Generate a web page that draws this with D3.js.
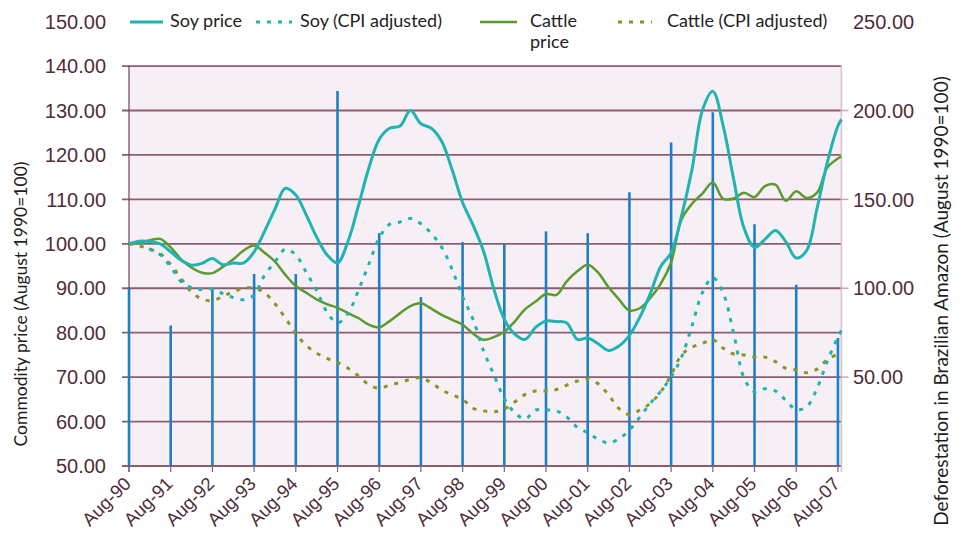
<!DOCTYPE html>
<html lang="en">
<head>
<meta charset="utf-8">
<title>Soy, cattle and deforestation</title>
<script src="https://d3js.org/d3.v7.min.js"></script>
<style>
  body { margin: 0; background: #fff; }
  .tick-label { font-family: "Liberation Sans", Arial, sans-serif; font-size: 20px; fill: #4f2c3a; }
  .x-label { font-family: "Liberation Sans", Arial, sans-serif; font-size: 18.5px; fill: #4f2c3a; }
  .legend { font-family: Lato, "Open Sans", sans-serif; font-size: 18px; fill: #1e1e1e; }
  .axis-title { font-family: Lato, "Open Sans", sans-serif; font-size: 17.5px; fill: #1e1e1e; }
</style>
</head>
<body>
<div id="chart"></div>
<script>
// months since Aug-90
var months = [0,3,6,9,12,15,18,21,24,27,30,33,36,39,42,45,48,51,54,57,60,63,66,69,72,75,78,81,84,87,
  90,93,96,99,102,105,108,111,114,117,120,123,126,129,132,135,138,141,144,147,150,153,156,159,162,165,
  168,171,174,177,180,183,186,189,192,195,198,201,204,205];

var soyPrice = [100,100.6,100.5,100,98.2,96.3,95.2,95.6,96.7,95.3, 95.7,95.7,98.2,102.8,107.8,112.5,111,106.5,101.5,97.5,
  95.7,100.5,108.5,117,123.5,126,126.5,130,127,126, 123,116.6,109.3,104.2,98.4,89.8,83,79.7,78.5,81.2,
  82.6,82.5,82.2,78.5,78.8,77.5,76,77,79.4,83.5, 88.8,94.9,98,106.3,116.7,130,134.3,126.5,114.5,103.5,
  99.2,101,103,100.5,96.8,98.5,108,118.5,126.5,128];

var soyCpi = [100,100.3,98.8,97.5,94.8,91.5,90.1,89.7,89.8,88.8, 87.9,87.4,88.5,92.9,95.9,98.8,97.5,93.6,89.5,84.6,
  82.2,84.3,89.5,95.4,101.3,104.4,104.9,105.7,104.5,102.3, 99.2,94.2,88.1,83,76,70.5,65.2,62,60.6,62.6,
  62.6,62.4,61,58.7,57.5,56,55.2,56.1,58.1,61, 64.1,66.8,70,74.5,81.5,89,92.4,88.9,79.8,69.8,
  66.7,67.4,66.9,64.8,62.7,63.3,67.5,73.7,79,80.5];

var cattlePrice = [100,100.3,100.8,101.1,99.2,96.5,94.6,93.5,93.4,94.8, 96.5,98.5,99.6,98,96,93,90.5,89,87.5,86.4,
  85.6,84.4,83.3,81.8,81.2,82.6,84.4,86,86.6,85.4, 84,82.9,81.8,79.8,78.4,79,80.2,82.5,85.3,87,
  88.7,88.5,91.6,93.8,95.3,93.5,90.2,87.5,85,85.5, 87.8,91,95.8,105.5,109,111.3,113.8,110.1,110.2,111.5,
  110.5,113,113.3,109.7,111.8,110.3,111.5,117.2,119.2,119.6];

var cattleCpi = [100,99.5,98.8,97.8,95.3,92.2,89.1,87.6,87.2,88.2, 89.2,90,90,89,86.5,83.3,79.8,77.1,75.4,74.2,
  73.3,72,70.3,68.3,67.5,68.2,68.8,69.5,69.9,68.7, 67.1,66,65,63,62.4,62.2,62.8,64.4,66.1,66.9,
  66.9,67.2,68.2,69.1,69.6,68.5,66,62.9,61.6,62.6, 64.1,66.7,70.5,75,76.7,77.6,78.4,76.5,75.2,75,
  74.5,74.5,73.5,72,71.6,71,71.8,74,75.2,75.7];

// deforestation index, one bar each August
var barMonths = [0,12,24,36,48,60,72,84,96,108,120,132,144,156,168,180,192,204];
var deforestation = [100,79,100,108,108,211,131,95,126,125,132,131,154,182,199,136,102,72];
var tickLabels = ["Aug-90","Aug-91","Aug-92","Aug-93","Aug-94","Aug-95","Aug-96","Aug-97","Aug-98",
  "Aug-99","Aug-00","Aug-01","Aug-02","Aug-03","Aug-04","Aug-05","Aug-06","Aug-07"];

var leftTicks = [50,60,70,80,90,100,110,120,130,140,150];
var rightTicks = [50,100,150,200,250];

var width = 965, height = 533;
var plot = {left: 129, right: 841.4, top: 65.6, bottom: 466};

var svg = d3.select("#chart").append("svg")
    .attr("width", width)
    .attr("height", height);

var x = d3.scaleLinear().domain([0, 205]).range([plot.left, plot.right]);
var yLeft = d3.scaleLinear().domain([50, 150]).range([plot.bottom, 21.6]);
var yRight = d3.scaleLinear().domain([0, 250]).range([plot.bottom, 21.6]);

// plot background
svg.append("rect")
    .attr("x", plot.left).attr("y", plot.top)
    .attr("width", plot.right - plot.left).attr("height", plot.bottom - plot.top)
    .attr("fill", "#f6f0f6");

// horizontal grid lines
svg.selectAll(".grid")
    .data(leftTicks.filter(function(d) { return d <= 140; }))
    .enter().append("line")
    .attr("x1", plot.left - 7).attr("x2", plot.right)
    .attr("y1", function(d) { return yLeft(d); })
    .attr("y2", function(d) { return yLeft(d); })
    .attr("stroke", "#8e5d6d")
    .attr("stroke-width", 1.8);

// plot borders
svg.append("line")
    .attr("x1", plot.left).attr("x2", plot.left)
    .attr("y1", plot.top).attr("y2", plot.bottom + 6)
    .attr("stroke", "#6e4454").attr("stroke-width", 1.2);
svg.append("line")
    .attr("x1", plot.right).attr("x2", plot.right)
    .attr("y1", plot.top).attr("y2", plot.bottom + 6)
    .attr("stroke", "#d9bfcd").attr("stroke-width", 1.5);

// left tick labels
svg.selectAll(".yl")
    .data(leftTicks)
    .enter().append("text")
    .attr("class", "tick-label")
    .attr("x", 106)
    .attr("y", function(d) { return yLeft(d); })
    .attr("dy", "0.36em")
    .attr("text-anchor", "end")
    .text(function(d) { return d.toFixed(2); });

// right ticks and labels
svg.selectAll(".yrt")
    .data(rightTicks.filter(function(d) { return d < 250; }))
    .enter().append("line")
    .attr("x1", plot.right).attr("x2", plot.right + 7)
    .attr("y1", function(d) { return yRight(d); })
    .attr("y2", function(d) { return yRight(d); })
    .attr("stroke", "#c9a6b6").attr("stroke-width", 1.5);

svg.selectAll(".yr")
    .data(rightTicks)
    .enter().append("text")
    .attr("class", "tick-label")
    .attr("x", 853)
    .attr("y", function(d) { return yRight(d); })
    .attr("dy", "0.36em")
    .text(function(d) { return d.toFixed(2); });

// x ticks and labels
svg.selectAll(".xt")
    .data(barMonths)
    .enter().append("line")
    .attr("x1", function(d) { return x(d); })
    .attr("x2", function(d) { return x(d); })
    .attr("y1", plot.bottom).attr("y2", plot.bottom + 6)
    .attr("stroke", "#8e5d6d").attr("stroke-width", 1.2);

svg.selectAll(".xl")
    .data(barMonths)
    .enter().append("text")
    .attr("class", "x-label")
    .attr("text-anchor", "end")
    .attr("transform", function(d) { return "translate(" + (x(d) + 3) + "," + (plot.bottom + 19) + ") rotate(-45)"; })
    .text(function(d, i) { return tickLabels[i]; });

// deforestation bars
svg.selectAll(".bar")
    .data(deforestation)
    .enter().append("line")
    .attr("x1", function(d, i) { return x(barMonths[i]); })
    .attr("x2", function(d, i) { return x(barMonths[i]); })
    .attr("y1", yRight(0))
    .attr("y2", function(d) { return yRight(d); })
    .attr("stroke", "#1e7fc6")
    .attr("stroke-width", 2.6);

// price lines
var series = [
  {values: soyPrice, color: "#1fb3b1", width: 3, dash: null},
  {values: soyCpi, color: "#1fb3b1", width: 3, dash: "4,7"},
  {values: cattlePrice, color: "#5b9a2c", width: 2.5, dash: null},
  {values: cattleCpi, color: "#8a9422", width: 3, dash: "4,7"}
];

var line = d3.line()
    .x(function(d, i) { return x(months[i]); })
    .y(function(d) { return yLeft(d); })
    .curve(d3.curveCatmullRom.alpha(0.5));

series.slice().reverse().forEach(function(s) {
  svg.append("path")
      .datum(s.values)
      .attr("d", line)
      .attr("fill", "none")
      .attr("stroke", s.color)
      .attr("stroke-width", s.width)
      .attr("stroke-dasharray", s.dash);
});

// legend
var legend = [
  {label: ["Soy price"], x1: 130, x2: 163, tx: 170, s: series[0]},
  {label: ["Soy (CPI adjusted)"], x1: 256, x2: 292, tx: 300, s: series[1]},
  {label: ["Cattle", "price"], x1: 480, x2: 517, tx: 530, s: series[2]},
  {label: ["Cattle (CPI adjusted)"], x1: 618, x2: 652, tx: 667, s: series[3]}
];

legend.forEach(function(l) {
  svg.append("line")
      .attr("x1", l.x1).attr("x2", l.x2)
      .attr("y1", 22).attr("y2", 22)
      .attr("stroke", l.s.color)
      .attr("stroke-width", l.s.width)
      .attr("stroke-dasharray", l.s.dash);
  var t = svg.append("text")
      .attr("class", "legend")
      .attr("x", l.tx)
      .attr("y", 27);
  l.label.forEach(function(s, i) {
    t.append("tspan").attr("x", l.tx).attr("dy", i ? 21 : 0).text(s);
  });
});

// axis titles
svg.append("text")
    .attr("class", "axis-title")
    .attr("text-anchor", "middle")
    .attr("transform", "translate(27,304) rotate(-90)")
    .text("Commodity price (August 1990=100)");

svg.append("text")
    .attr("class", "axis-title")
    .attr("text-anchor", "middle")
    .style("font-size", "19px")
    .attr("transform", "translate(948,301) rotate(-90)")
    .text("Deforestation in Brazilian Amazon (August 1990=100)");
</script>
</body>
</html>
